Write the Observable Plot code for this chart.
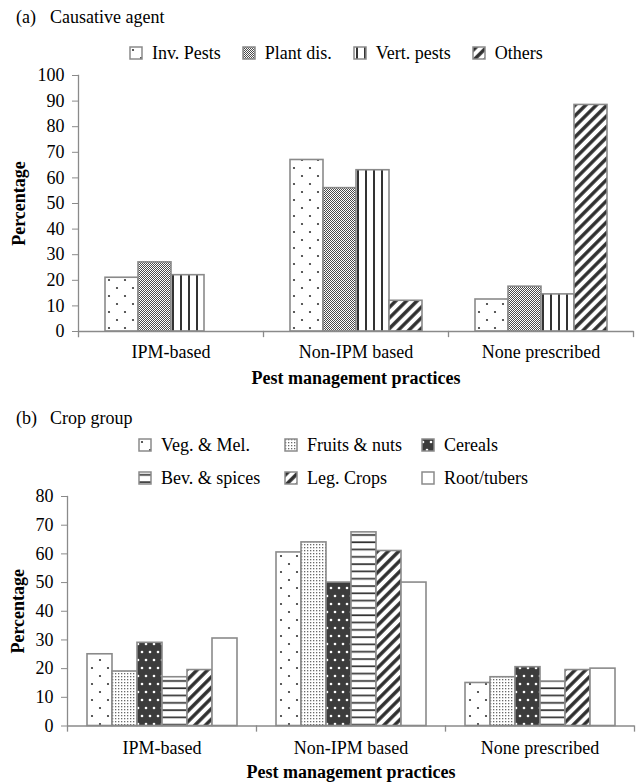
<!DOCTYPE html>
<html><head><meta charset="utf-8">
<script src="https://cdn.jsdelivr.net/npm/d3@7"></script>
<script src="https://cdn.jsdelivr.net/npm/@observablehq/plot@0.6"></script>
<style>
body{margin:0;background:#fff;}
#root{position:relative;width:639px;height:783px;overflow:hidden;font-family:'Liberation Serif','Times New Roman',Tinos,'DejaVu Serif',serif;font-size:18px;color:#000;}
.ptitle{position:absolute;white-space:nowrap;line-height:18px;}
.ptitle span.tag{display:inline-block;width:34px;}
.chart{position:absolute;left:0;}
.legend{position:absolute;line-height:18px;white-space:nowrap;z-index:2;}
.legA{display:flex;align-items:center;}
.legB{display:grid;grid-template-columns:146px 137px auto;row-gap:15px;}
.item{display:flex;align-items:center;}
.legA .item{margin-right:21px;}
.item svg{margin-right:9px;flex:none;}
</style>
</head><body>
<svg width="0" height="0" style="position:absolute">
<defs>
<pattern id="pDots" width="16" height="16" patternUnits="userSpaceOnUse"><rect width="16" height="16" fill="#fff"/><circle cx="4" cy="4" r="1.1" fill="#333"/><circle cx="12" cy="12" r="1.1" fill="#333"/></pattern>
<pattern id="pChecker" width="2" height="2" patternUnits="userSpaceOnUse"><rect width="2" height="2" fill="#fff"/><rect width="1" height="1" fill="#4a4a4a"/><rect x="1" y="1" width="1" height="1" fill="#4a4a4a"/></pattern>
<pattern id="pVert" width="8" height="8" patternUnits="userSpaceOnUse"><rect width="8" height="8" fill="#fff"/><rect x="3" width="2" height="8" fill="#333"/></pattern>
<pattern id="pHoriz" width="8" height="7.3" patternUnits="userSpaceOnUse"><rect width="8" height="7.3" fill="#fff"/><rect y="3" width="8" height="1.7" fill="#333"/></pattern>
<pattern id="pDiag" width="7.5" height="7.5" patternUnits="userSpaceOnUse" patternTransform="rotate(45)"><rect width="7.5" height="7.5" fill="#fff"/><rect x="2" width="3.4" height="7.5" fill="#2e2e2e"/></pattern>
<pattern id="pFine" width="3" height="3" patternUnits="userSpaceOnUse"><rect width="3" height="3" fill="#fff"/><rect x="1" y="1" width="1.3" height="1.3" fill="#6a6a6a"/></pattern>
<pattern id="pDark" width="8" height="16" patternUnits="userSpaceOnUse"><rect width="8" height="16" fill="#3c3c3c"/><circle cx="2" cy="4" r="1.3" fill="#fff"/><circle cx="6" cy="12" r="1.3" fill="#fff"/></pattern>
<pattern id="pWhite" width="4" height="4" patternUnits="userSpaceOnUse"><rect width="4" height="4" fill="#fff"/></pattern>
</defs></svg>
<div id="root">
  <div class="ptitle" style="left:16px;top:8px;"><span class="tag">(a)</span>Causative agent</div>
  <div id="chartA" class="chart" style="top:60px;"></div>
  <div id="legendA" class="legend legA" style="left:129px;top:44px;"></div>
  <div class="ptitle" style="left:16px;top:409px;"><span class="tag">(b)</span>Crop group</div>
  <div id="chartB" class="chart" style="top:480px;"></div>
  <div id="legendB" class="legend legB" style="left:138px;top:436px;"></div>
</div>
<script>
// ---- data ----
const categories = ["IPM-based", "Non-IPM based", "None prescribed"];

const agentSeries = ["Inv. Pests", "Plant dis.", "Vert. pests", "Others"];
const agentIPM = [21, 27, 22, 0];
const agentNonIPM = [67, 56, 63, 12];
const agentNone = [12.5, 17.5, 14.5, 88.5];
const agentTicks = [0, 10, 20, 30, 40, 50, 60, 70, 80, 90, 100];

const cropSeries = ["Veg. & Mel.", "Fruits & nuts", "Cereals", "Bev. & spices", "Leg. Crops", "Root/tubers"];
const cropIPM = [25, 19, 29, 17, 19.5, 30.5];
const cropNonIPM = [60.5, 64, 50, 67.5, 61, 50];
const cropNone = [15, 17, 20.5, 15.5, 19.5, 20];
const cropTicks = [0, 10, 20, 30, 40, 50, 60, 70, 80];

const xTitle = "Pest management practices";
const yTitle = "Percentage";

// ---- styles ----
const agentPatterns = ["pDots", "pChecker", "pVert", "pDiag"];
const cropPatterns = ["pDots", "pFine", "pDark", "pHoriz", "pDiag", "pWhite"];
const AXIS = "#8a8a8a";
const FONT = "'Liberation Serif','Times New Roman',Tinos,'DejaVu Serif',serif";

function drawChart(o) {
  const rows = [];
  o.groups.forEach((vals, i) => vals.forEach((v, j) => rows.push({cat: categories[i], ser: o.series[j], val: v})));
  const fillOf = new Map(o.series.map((s, j) => [s, `url(#${o.patterns[j]})`]));
  const innerH = o.height - o.marginTop - o.marginBottom;
  const svg = Plot.plot({
    width: 639,
    height: o.height,
    marginTop: o.marginTop,
    marginBottom: o.marginBottom,
    marginLeft: o.marginLeft,
    marginRight: 5,
    style: {fontFamily: FONT, fontSize: "18px", color: "#000", background: "transparent", overflow: "visible"},
    fx: {domain: categories, padding: 0},
    x: {domain: o.series, paddingInner: 0, paddingOuter: 0.75, axis: null},
    y: {domain: [0, o.ticks[o.ticks.length - 1]]},
    color: {type: "identity"},
    marks: [
      Plot.barY(rows, {fx: "cat", x: "ser", y: "val", fill: d => fillOf.get(d.ser), stroke: AXIS, strokeWidth: 1.6}),
      Plot.ruleY([0], {stroke: AXIS, strokeWidth: 1.3}),
      Plot.frame({anchor: "left", facetAnchor: "left", stroke: AXIS, strokeWidth: 1.3, insetBottom: -5}),
      Plot.frame({anchor: "right", stroke: AXIS, strokeWidth: 1.3, insetTop: innerH, insetBottom: -5}),
      Plot.axisY({ticks: o.ticks, tickSize: 6, tickPadding: 8, stroke: AXIS, fill: "#000", label: yTitle, labelAnchor: "center", labelArrow: "none", labelOffset: o.yLabelOffset}),
      Plot.axisFx({anchor: "bottom", tickSize: 0, tickPadding: o.fxPad, fill: "#000", label: xTitle, labelAnchor: "center", labelArrow: "none", labelOffset: o.fxLabelOffset})
    ]
  });
  svg.querySelectorAll('[aria-label="y-axis label"] text, [aria-label="fx-axis label"] text').forEach(t => t.setAttribute("font-weight", "bold"));
  return svg;
}

function legend(el, series, patterns) {
  series.forEach((s, j) => {
    const it = document.createElement("div");
    it.className = "item";
    it.innerHTML = `<svg width="14" height="14"><rect x="1" y="1" width="12" height="12" fill="url(#${patterns[j]})" stroke="${AXIS}" stroke-width="1.5"/></svg><span></span>`;
    it.querySelector("span").textContent = s;
    el.appendChild(it);
  });
}

document.getElementById("chartA").appendChild(drawChart({
  groups: [agentIPM, agentNonIPM, agentNone], series: agentSeries, patterns: agentPatterns, ticks: agentTicks,
  height: 335, marginTop: 15, marginBottom: 64, marginLeft: 77, yLabelOffset: 66, fxPad: 14, fxLabelOffset: 52
}));
document.getElementById("chartB").appendChild(drawChart({
  groups: [cropIPM, cropNonIPM, cropNone], series: cropSeries, patterns: cropPatterns, ticks: cropTicks,
  height: 303, marginTop: 16, marginBottom: 57.5, marginLeft: 67, yLabelOffset: 56, fxPad: 15, fxLabelOffset: 52
}));
legend(document.getElementById("legendA"), agentSeries, agentPatterns);
legend(document.getElementById("legendB"), cropSeries, cropPatterns);
</script>
</body></html>
